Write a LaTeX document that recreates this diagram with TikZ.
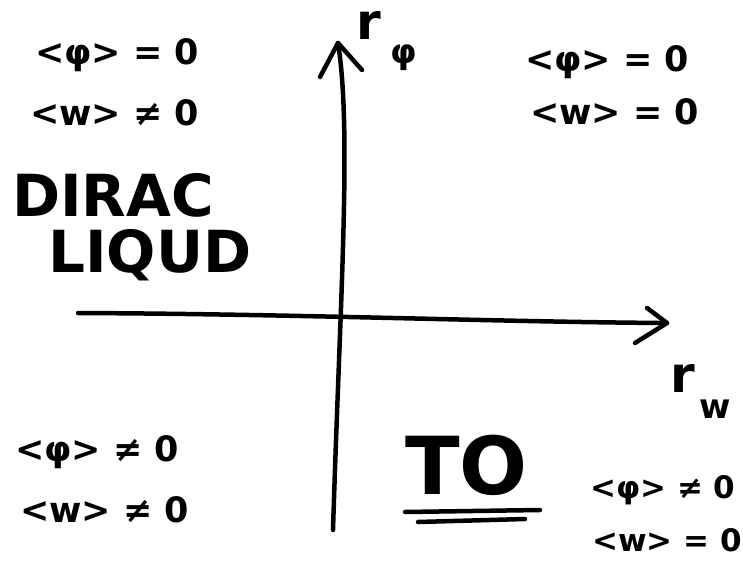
\documentclass[tikz,border=0pt]{standalone}
\usepackage{fontspec}
\setmainfont{DejaVu Sans}
\tikzset{
  stroke/.style={line width=4.5pt, line cap=round, line join=round},
  lbl/.style={font=\bfseries\fontsize{35}{38}\selectfont, inner sep=0pt, anchor=west},
  lbls/.style={font=\bfseries\fontsize{31}{33}\selectfont, inner sep=0pt, anchor=west},
  big/.style={font=\bfseries\fontsize{58}{60}\selectfont, inner sep=0pt, anchor=west},
  mid/.style={font=\bfseries\fontsize{58}{60}\selectfont, inner sep=0pt, anchor=west},
  huge/.style={font=\bfseries\fontsize{80}{82}\selectfont, inner sep=0pt, anchor=west},
  rlbl/.style={font=\bfseries\fontsize{50}{52}\selectfont, inner sep=0pt, anchor=base west},
  sublbl/.style={font=\bfseries\fontsize{34}{36}\selectfont, inner sep=0pt, anchor=base west},
}
\begin{document}
\begin{tikzpicture}[x=1pt,y=-1pt]
\useasboundingbox (0,0) rectangle (743,561);
% axes
\coordinate (vb) at (333,530);
\coordinate (vt) at (338,43);
\coordinate (hl) at (78,313);
\coordinate (hr) at (667,323);
\draw[stroke] (vb) .. controls (340,300) and (352,130) .. (vt);
\draw[stroke] (320,77) -- (vt) -- (362,70);
\draw[stroke] (hl) .. controls (300,314) and (500,322) .. (hr);
\draw[stroke] (647,308) -- (hr) -- (635,343);
% axis labels
\node[rlbl] (rphi) at (356,40) {r};
\node[sublbl] (rphisub) at (390,64) {φ};
\node[rlbl] (rw) at (670,392) {r};
\node[sublbl] (rwsub) at (699,418) {w};
% top left
\node[lbl] (tl1) at (35,55) {<φ> = 0};
\node[lbl] (tl2) at (30,113) {<w> ≠ 0};
\node[big] (dirac) at (12,195) {DIRAC};
\node[mid] (liquid) at (48,255) {LIQUD};
% top right
\node[lbl] (tr1) at (525,62) {<φ> = 0};
\node[lbl] (tr2) at (530,112) {<w> = 0};
% bottom left
\node[lbl] (bl1) at (15,452) {<φ> ≠ 0};
\node[lbl] (bl2) at (20,510) {<w> ≠ 0};
% bottom right
\node[huge] (to) at (405,465) {TO};
\draw[stroke] (405,512) -- (540,510);
\draw[stroke] (418,522) -- (525,519);
\node[lbls] (br1) at (590,490) {<φ> ≠ 0};
\node[lbls] (br2) at (592,540) {<w> = 0};
\end{tikzpicture}
\end{document}
